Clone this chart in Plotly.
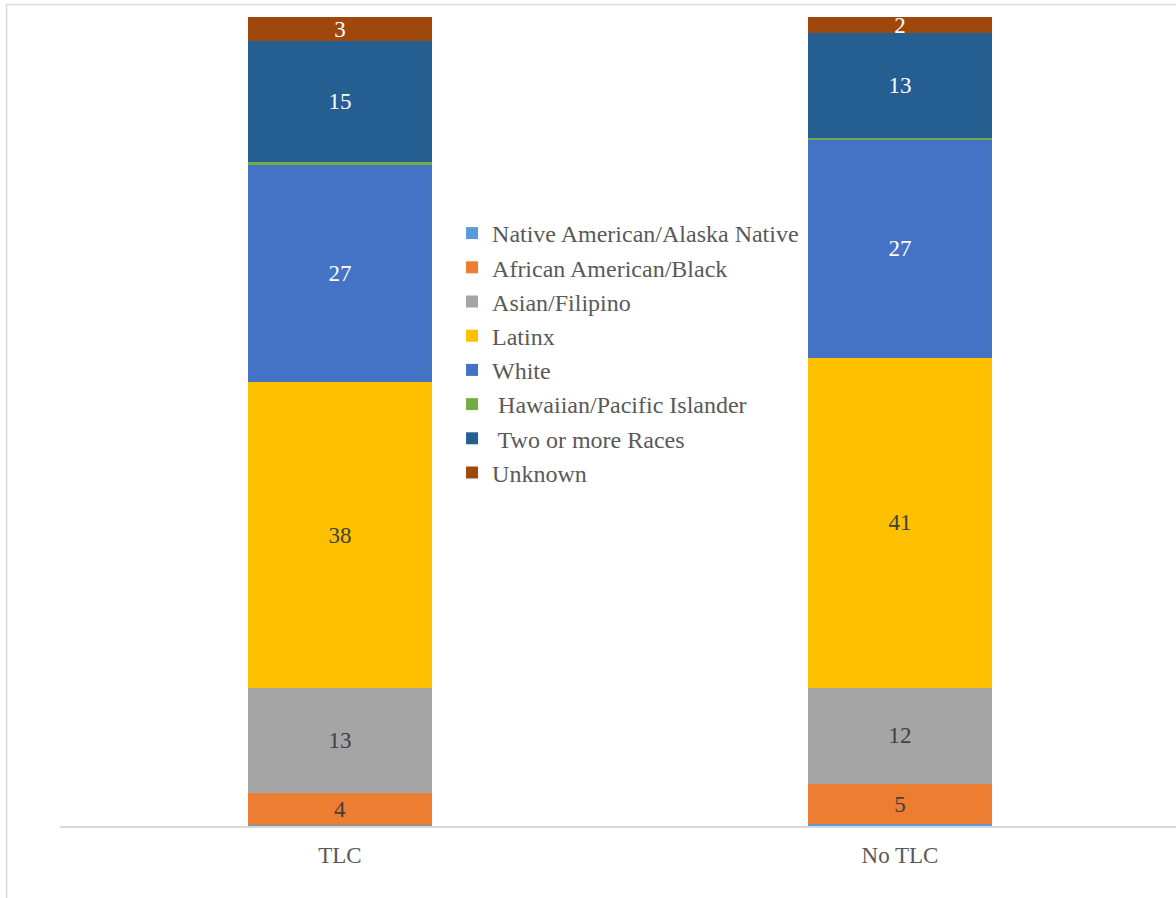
import plotly.graph_objects as go

# Share of students by race/ethnicity, TLC vs. No TLC (percent)
groups = ["TLC", "No TLC"]
categories = [
    "Native American/Alaska Native",
    "African American/Black",
    "Asian/Filipino",
    "Latinx",
    "White",
    " Hawaiian/Pacific Islander",
    " Two or more Races",
    "Unknown",
]
native_american = [0.1, 0.2]
african_american = [4, 5]
asian_filipino = [13, 12]
latinx = [38, 41]
white = [27, 27]
hawaiian_pacific = [0.4, 0.3]
two_or_more = [15, 13]
unknown = [3, 2]

series = [native_american, african_american, asian_filipino, latinx,
          white, hawaiian_pacific, two_or_more, unknown]
colors = ["#5B9BD5", "#ED7D31", "#A5A5A5", "#FFC000",
          "#4472C4", "#70AD47", "#255E91", "#9E480E"]
label_colors = ["#404040", "#404040", "#404040", "#404040",
                "#FFFFFF", "#404040", "#FFFFFF", "#FFFFFF"]

FONT = "Liberation Serif"

fig = go.Figure()
for name, vals, col, tcol in zip(categories, series, colors, label_colors):
    labels = [f"{v:g}" if v >= 1 else "" for v in vals]
    fig.add_trace(go.Bar(
        name=name,
        x=groups,
        y=vals,
        width=0.3286,
        marker=dict(color=col, line=dict(width=0)),
        text=labels,
        texttemplate="%{text}",
        textposition="inside",
        insidetextanchor="middle",
        textangle=0,
        textfont=dict(family=FONT, size=23, color=tcol),
        hoverinfo="skip",
    ))

fig.update_layout(
    barmode="stack",
    width=1176,
    height=898,
    margin=dict(l=60, r=0, t=17, b=72, autoexpand=False),
    paper_bgcolor="white",
    plot_bgcolor="white",
    font=dict(family=FONT, color="#595959"),
    uniformtext=dict(minsize=23, mode="show"),
    showlegend=True,
    legend=dict(
        xref="paper", yref="paper",
        x=0.3513, y=0.7602, xanchor="left", yanchor="top",
        traceorder="normal",
        font=dict(family=FONT, size=24, color="#595959"),
        bgcolor="rgba(0,0,0,0)",
        borderwidth=0,
    ),
    xaxis=dict(
        type="category",
        range=[-0.5, 1.4929],
        showgrid=False,
        zeroline=False,
        showline=True,
        linecolor="#D9D9D9",
        linewidth=1.5,
        ticks="",
        ticklabelstandoff=8,
        tickfont=dict(family=FONT, size=23, color="#595959"),
        fixedrange=True,
    ),
    yaxis=dict(
        range=[0, 100.5],
        visible=False,
        showgrid=False,
        zeroline=False,
        fixedrange=True,
    ),
    shapes=[
        # outer chart frame
        dict(type="rect", xref="paper", yref="paper",
             x0=-0.0479, x1=1.2, y0=-0.3, y1=1.0155,
             line=dict(color="#D9D9D9", width=1.5),
             fillcolor="rgba(0,0,0,0)", layer="below"),
    ],
)

fig.write_html("out.html")
